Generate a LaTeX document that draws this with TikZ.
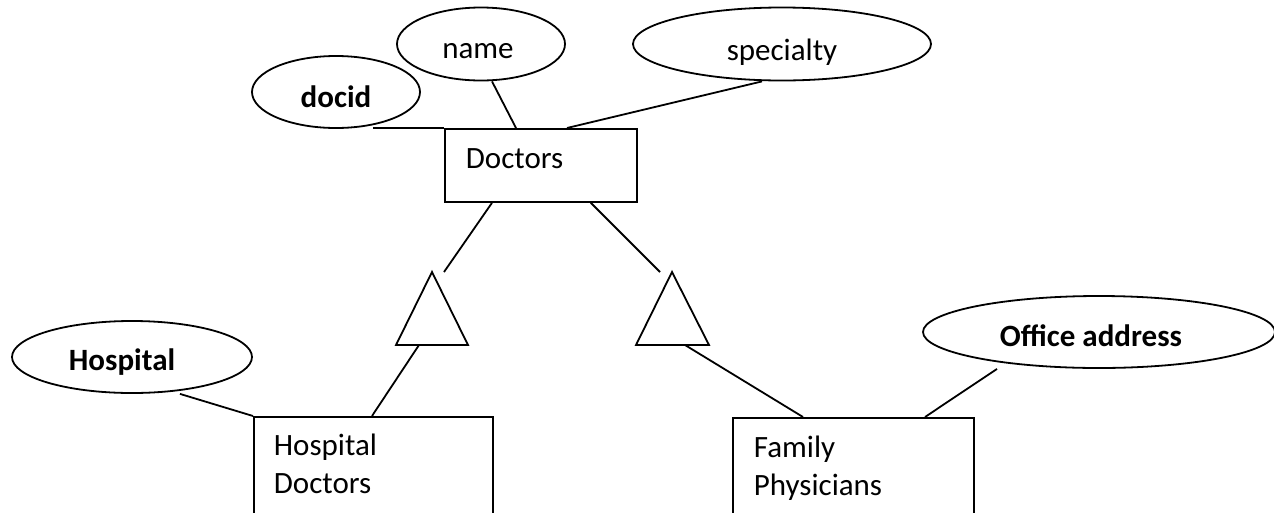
\documentclass[tikz,border=0pt]{standalone}
\usepackage{fontspec}
\setmainfont{Carlito}
\usetikzlibrary{shapes.geometric}
\begin{document}
\begin{tikzpicture}[x=1pt,y=-1pt,line width=1.8pt,
  txt/.style={font=\fontsize{31}{38}\selectfont},
  attr/.style={draw, ellipse, inner sep=0pt, text depth=0pt, txt},
  entity/.style={draw, rectangle, anchor=north west, inner ysep=0pt, align=left, txt}]
\useasboundingbox (0,0) rectangle (1274,512);
% attributes
\node[attr, minimum width=168pt, minimum height=72pt, text height=30pt] (docid) at (336,92) {\textbf{docid}};
\node[attr, minimum width=168pt, minimum height=73pt, text height=28pt] (name) at (481,44) {name\rule{6pt}{0pt}};
\node[attr, minimum width=298pt, minimum height=73pt, text height=32pt] (spec) at (782,44) {specialty};
\node[attr, minimum width=240pt, minimum height=72pt, text height=26pt] (hosp) at (132,357) {\textbf{Hospital}\rule{20pt}{0pt}};
\node[attr, minimum width=352pt, minimum height=72pt, text height=28pt] (office) at (1099,332) {\textbf{Office address}\rule{16pt}{0pt}};
% entities
\node[entity, inner xsep=21pt, text width=150pt, text height=40pt, text depth=33pt] (doc) at (444,128) {Doctors};
\node[entity, inner xsep=20pt, text width=199pt, text height=39pt, text depth=75pt] (hd) at (253,416) {Hospital\\Doctors};
\node[entity, inner xsep=21pt, text width=199pt, text height=40pt, text depth=73pt] (fp) at (732,417) {Family\\Physicians};
% ISA triangles
\coordinate (tLa) at (432,272); \coordinate (tLb) at (396,345); \coordinate (tLc) at (468,345);
\coordinate (tRa) at (672,272); \coordinate (tRb) at (636,345); \coordinate (tRc) at (709,345);
\draw[line join=miter] (tLa) -- (tLb) -- (tLc) -- cycle;
\draw[line join=miter] (tRa) -- (tRb) -- (tRc) -- cycle;
% connectors
\coordinate (docidend) at (373,128);
\draw (docidend) -- (doc.north west);
\draw ([xshift=11pt]name.south) -- ([xshift=72pt]doc.north west);
\draw ([xshift=-20pt]spec.south) -- ([xshift=123pt]doc.north west);
\draw ([xshift=48pt]doc.south west) -- ([xshift=12pt]tLa);
\draw ([xshift=-47pt]doc.south east) -- ([xshift=-12pt]tRa);
\draw ([xshift=23pt]tLb) -- ([xshift=119pt]hd.north west);
\draw ([xshift=48pt]hosp.south) -- (hd.north west);
\draw ([xshift=49pt]tRb) -- ([xshift=71pt]fp.north west);
\draw ([xshift=-102pt]office.south) -- ([xshift=193pt]fp.north west);
\end{tikzpicture}
\end{document}
